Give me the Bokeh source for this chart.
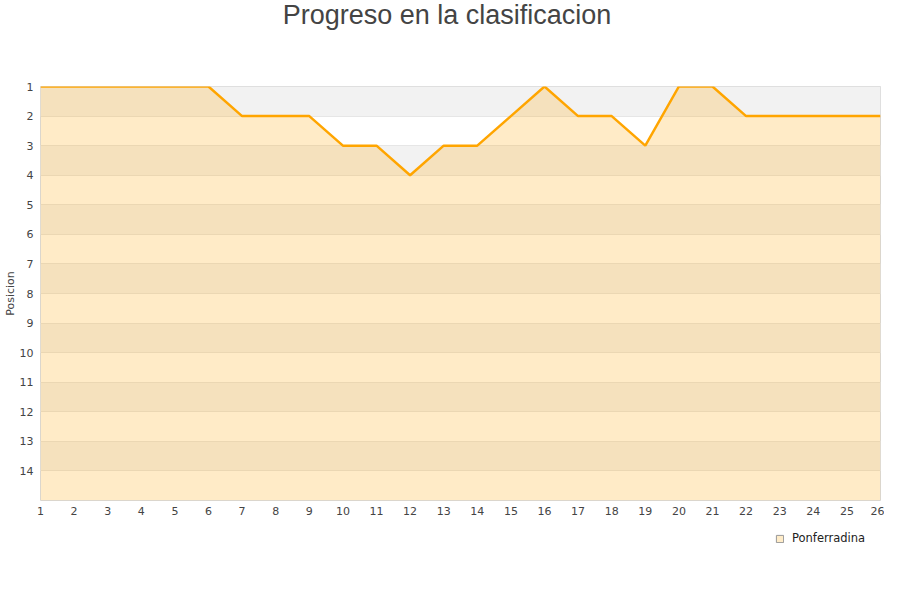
from bokeh.plotting import figure
from bokeh.models import Range1d, FixedTicker, Legend, LegendItem, Div, Spacer
from bokeh.layouts import column, row
from bokeh.embed import file_html
from bokeh.resources import INLINE

# datos
jornadas = list(range(1, 27))
posicion = [1, 1, 1, 1, 1, 1, 2, 2, 2, 3, 3, 4, 3, 3, 2, 1, 2, 2, 3, 1, 1, 2, 2, 2, 2, 2]
y_ticks = list(range(1, 15))
equipo = "Ponferradina"
titulo = "Progreso en la clasificacion"
fondo = [15] * len(jornadas)

cabecera = Div(text=titulo, width=884, height=40,
               styles={"font-family": "Liberation Sans", "font-size": "27px",
                       "color": "#444444", "text-align": "center",
                       "width": "884px", "line-height": "20px"})

p = figure(width=884, height=472,
           toolbar_location=None, tools="",
           output_backend="svg",
           x_range=Range1d(1, 26), y_range=Range1d(15, 1),
           min_border_left=32, min_border_right=4,
           min_border_top=36, min_border_bottom=22)

p.outline_line_color = "#d9d9d9"
p.background_fill_color = "white"

# franjas grises alternas (1-2, 3-4, ...)
franjas = [t + 0.5 for t in y_ticks[::2]]
p.hbar(y=franjas, left=jornadas[0], right=jornadas[-1], height=1,
       fill_color="#f2f2f2", line_color=None, level="image")

p.varea(x=jornadas, y1=posicion, y2=fondo, fill_color="#ffa500", fill_alpha=0.22)
p.line(x=jornadas, y=posicion, line_color="#ffa500", line_width=2.5)

p.xgrid.grid_line_color = None
p.ygrid.grid_line_color = "#e6e6e6"

p.xaxis.ticker = FixedTicker(ticks=jornadas)
p.yaxis.ticker = FixedTicker(ticks=y_ticks)
p.yaxis.axis_label = "Posicion"

for ax in (p.xaxis[0], p.yaxis[0]):
    ax.axis_line_color = None
    ax.major_tick_line_color = None
    ax.minor_tick_line_color = None
    ax.major_tick_out = 0
    ax.major_tick_in = 0
    ax.minor_tick_out = 0
    ax.major_label_text_font = "DejaVu Sans"
    ax.major_label_text_font_size = "11px"
    ax.major_label_text_color = "#444444"

p.yaxis.major_label_standoff = 7
p.xaxis.major_label_standoff = 6
p.yaxis.axis_label_standoff = 0
p.yaxis.axis_label_text_font = "DejaVu Sans"
p.yaxis.axis_label_text_font_size = "11px"
p.yaxis.axis_label_text_font_style = "normal"
p.yaxis.axis_label_text_color = "#444444"

# leyenda en una figura aparte, debajo a la derecha
ley = figure(width=124, height=30, toolbar_location=None, tools="",
             output_backend="svg", x_axis_type=None, y_axis_type=None,
             x_range=Range1d(0, 1), y_range=Range1d(0, 1),
             min_border=0, outline_line_color=None)
ley.xgrid.grid_line_color = None
ley.ygrid.grid_line_color = None
nan = float("nan")
sq = ley.quad(left=[nan], right=[nan], bottom=[nan], top=[nan],
              fill_color="#ffecc8", line_color="#999999", line_width=1)
legend = Legend(items=[LegendItem(label=equipo, renderers=[sq])],
                location=(23, 7), padding=0, margin=0,
                glyph_width=9, glyph_height=9, label_standoff=8,
                label_height=13,
                label_text_font="DejaVu Sans", label_text_font_size="11.5px",
                label_text_color="#222222",
                border_line_color=None, background_fill_alpha=0)
ley.add_layout(legend, "center")

pie = row(Spacer(width=752, height=30), ley)

open("out.html", "w").write(file_html(column(cabecera, p, pie), INLINE))
